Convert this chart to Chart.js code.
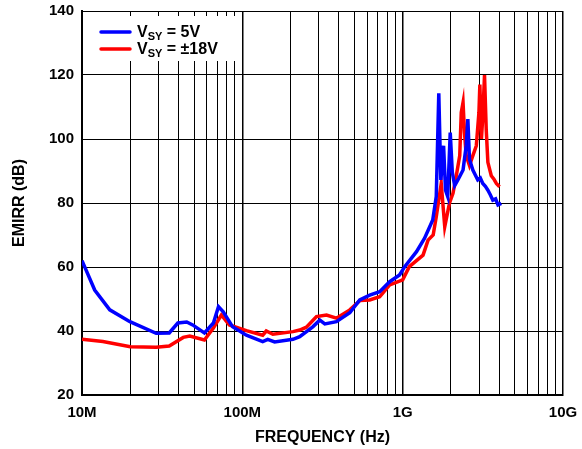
<!DOCTYPE html>
<html>
<head>
<meta charset="utf-8">
<script src="https://cdn.jsdelivr.net/npm/chart.js@4.4.0/dist/chart.umd.min.js"></script>
<style>
  html, body { margin: 0; padding: 0; background: #fff; }
  #wrap { width: 582px; height: 449px; }
</style>
</head>
<body>
<div id="wrap"><canvas id="emirrChart"></canvas></div>
<script>
// values (frequency in Hz, EMIRR in dB)
const blueFreq = [10e6, 12e6, 14.9e6, 19.9e6, 29e6, 35e6, 39.6e6, 45e6, 49e6, 58e6, 66e6, 71e6, 76e6, 87e6,
    106e6, 134e6, 144e6, 159e6, 207e6, 228e6, 275e6, 304e6, 327e6, 386e6, 468e6, 540e6, 623e6, 719e6, 830e6,
    956e6, 1.03e9, 1.22e9, 1.37e9, 1.54e9, 1.62e9, 1.68e9, 1.73e9, 1.77e9, 1.80e9, 1.85e9, 1.91e9, 1.98e9,
    2.04e9, 2.11e9, 2.21e9, 2.38e9, 2.49e9, 2.55e9, 2.61e9, 2.74e9, 2.94e9, 3.05e9, 3.16e9, 3.28e9, 3.40e9,
    3.52e9, 3.65e9, 3.80e9, 3.93e9, 4.12e9];
const blueDb = [62, 52.8, 46.6, 42.9, 39.3, 39.4, 42.5, 42.8, 41.9, 39.4, 42.5, 47.6, 46, 41.3,
    38.7, 36.7, 37.4, 36.6, 37.4, 38.2, 41.3, 43.4, 42.2, 42.9, 45.7, 49.7, 51.2, 52.3, 55.4,
    57.5, 60.1, 64.8, 69, 74.7, 82, 114.3, 87.2, 92.5, 97.9, 84, 82, 102,
    89.6, 85.4, 87.2, 90.3, 97.9, 106.2, 93.7, 90.3, 87.2, 87.8, 86.1, 85.2, 84,
    82.6, 80.9, 81.3, 79.4, 79.9];

const redFreq = [10e6, 13.5e6, 20e6, 29e6, 35e6, 42.8e6, 47e6, 58e6, 66e6, 74e6, 83e6, 106e6, 134e6, 141e6,
    155e6, 207e6, 228e6, 251e6, 290e6, 335e6, 386e6, 468e6, 540e6, 623e6, 719e6, 830e6, 1e9, 1.1e9, 1.34e9,
    1.44e9, 1.55e9, 1.62e9, 1.74e9, 1.83e9, 1.96e9, 2.06e9, 2.16e9, 2.27e9, 2.32e9, 2.38e9, 2.43e9, 2.49e9,
    2.61e9, 2.74e9, 2.88e9, 2.99e9, 3.03e9, 3.10e9, 3.16e9, 3.24e9, 3.32e9, 3.40e9, 3.57e9, 3.70e9, 3.84e9,
    4.02e9];
const redDb = [37.4, 36.7, 35.1, 34.9, 35.3, 38, 38.4, 37.2, 40.9, 45, 41.9, 40.1, 38.7, 40,
    39, 39.8, 40.3, 41.2, 44.5, 45, 44, 46.6, 49.5, 49.7, 50.7, 54.4, 56, 60.1, 63.7,
    68.4, 70, 75.7, 86.1, 72.6, 80, 83, 88.5, 94.8, 108.3, 111.4, 102, 94.8,
    91.7, 94.8, 97.9, 108.3, 117, 100, 107, 120, 103, 92.7, 88.5, 87.5, 86.1,
    85.1];

const decades = [1e7, 1e8, 1e9, 1e10];
const tickLabels = ['10M', '100M', '1G', '10G'];
const seriesNames = ['5V', '\u00B118V'];
const seriesColors = ['#0000ff', '#ff0000'];

const toPoints = (xs, ys) => xs.map((x, i) => ({ x: x, y: ys[i] }));

const fam = 'Arial, "Liberation Sans", sans-serif';
const tickFont = { family: fam, size: 15, weight: 'bold' };
const titleFont = { family: fam, size: 16, weight: 'bold' };

// legend with subscripts, drawn on a white box over the grid
const legendBox = {
    id: 'legendBox',
    afterDatasetsDraw(chart) {
        const c = chart.ctx;
        c.save();
        c.fillStyle = '#fff';
        c.fillRect(95, 16, 143, 45);
        seriesNames.forEach((name, i) => {
            const y = 32 + i * 17;
            c.strokeStyle = seriesColors[i];
            c.lineWidth = 3.5;
            c.lineCap = 'round';
            c.beginPath();
            c.moveTo(101, y);
            c.lineTo(130, y);
            c.stroke();
            c.fillStyle = '#000';
            c.textBaseline = 'alphabetic';
            c.font = 'bold 16px ' + fam;
            let x = 137;
            c.fillText('V', x, y + 5);
            x += c.measureText('V').width;
            c.font = 'bold 11px ' + fam;
            c.fillText('SY', x, y + 8);
            x += c.measureText('SY').width;
            c.font = 'bold 16px ' + fam;
            c.fillText(' = ' + name, x, y + 5);
        });
        c.restore();
    }
};

new Chart(document.getElementById('emirrChart'), {
    type: 'scatter',
    data: {
        datasets: [{
            label: 'VSY = 5V',
            data: toPoints(blueFreq, blueDb),
            borderColor: seriesColors[0],
            backgroundColor: seriesColors[0],
            borderWidth: 3.5,
            showLine: true,
            pointRadius: 0,
            tension: 0
        }, {
            label: 'VSY = \u00B118V',
            data: toPoints(redFreq, redDb),
            borderColor: seriesColors[1],
            backgroundColor: seriesColors[1],
            borderWidth: 3.5,
            showLine: true,
            pointRadius: 0,
            tension: 0
        }]
    },
    options: {
        responsive: true,
        maintainAspectRatio: false,
        animation: false,
        layout: { padding: { top: 11, right: 19, left: 0, bottom: 0 } },
        plugins: {
            legend: { display: false },
            tooltip: { enabled: false }
        },
        scales: {
            x: {
                type: 'logarithmic',
                min: 1e7,
                max: 1e10,
                afterBuildTicks: (scale) => {
                    const t = [];
                    for (let d = 1e7; d < 1e10; d *= 10) {
                        for (let m = 1; m < 10; m++) t.push({ value: m * d });
                    }
                    t.push({ value: 1e10 });
                    scale.ticks = t;
                },
                afterFit: (scale) => {
                    scale.height = 54;
                    scale.paddingLeft = 0;
                    scale.paddingRight = 0;
                },
                ticks: {
                    autoSkip: false,
                    maxRotation: 0,
                    color: '#000',
                    font: tickFont,
                    padding: 9,
                    callback: (v) => {
                        const i = decades.findIndex(d => Math.abs(d - v) / d < 1e-6);
                        return i >= 0 ? tickLabels[i] : '';
                    }
                },
                grid: {
                    color: '#000',
                    lineWidth: (ctx) => {
                        const v = ctx.tick ? ctx.tick.value : 0;
                        return decades.some(d => Math.abs(d - v) / d < 1e-6) ? 1.5 : 1;
                    },
                    drawTicks: false
                },
                border: { color: '#000', width: 2 },
                title: {
                    display: true,
                    text: 'FREQUENCY (Hz)',
                    color: '#000',
                    font: titleFont,
                    padding: { top: 2, bottom: 2 }
                }
            },
            y: {
                min: 20,
                max: 140,
                afterFit: (scale) => {
                    scale.width = 82;
                    scale.paddingTop = 0;
                    scale.paddingBottom = 0;
                },
                ticks: {
                    stepSize: 20,
                    color: '#000',
                    font: tickFont,
                    padding: 8
                },
                grid: { color: '#000', lineWidth: 1, drawTicks: false },
                border: { color: '#000', width: 2 },
                title: {
                    display: true,
                    text: 'EMIRR (dB)',
                    color: '#000',
                    font: titleFont,
                    padding: { top: 10, bottom: 4 }
                }
            }
        }
    },
    plugins: [legendBox]
});
</script>
</body>
</html>
